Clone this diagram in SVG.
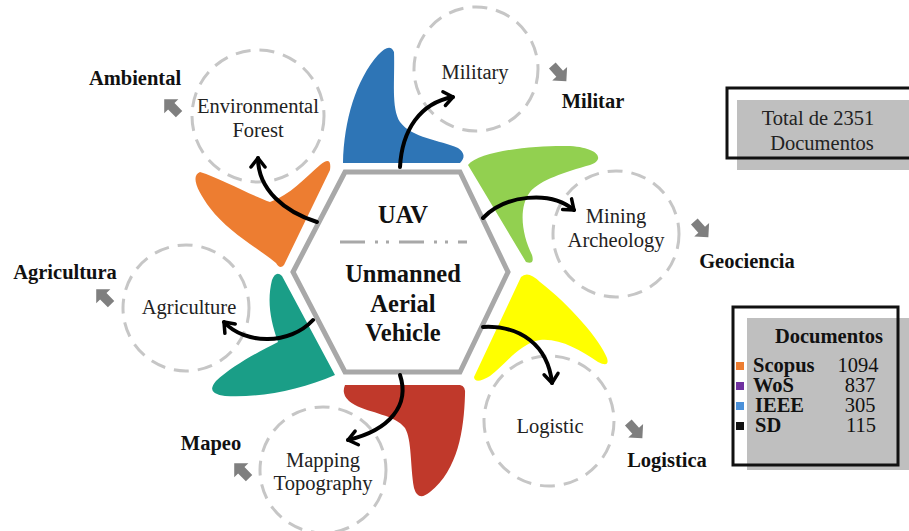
<svg xmlns="http://www.w3.org/2000/svg" width="909" height="531" viewBox="0 0 909 531">
<style>
.circ{fill:none;stroke:#c6c6c6;stroke-width:3;stroke-dasharray:15 9}
.lbl{font-family:"Liberation Serif",serif;font-size:20.5px;fill:#222;text-anchor:middle}
.bold{font-family:"Liberation Serif",serif;font-size:20.5px;font-weight:bold;fill:#111;text-anchor:middle}
.hex{font-family:"Liberation Serif",serif;font-size:24.5px;font-weight:bold;fill:#111;text-anchor:middle}
.garrow{fill:#7f7f7f}
.curve{fill:none;stroke:#000;stroke-width:4;stroke-linecap:round;marker-end:url(#head)}
.box{font-family:"Liberation Serif",serif;font-size:20.5px;fill:#222;text-anchor:middle}
.leg{font-family:"Liberation Serif",serif;font-size:20.5px;fill:#111}
</style>
<defs>
<marker id="head" viewBox="-12 -10 16 20" markerWidth="16" markerHeight="20" refX="0" refY="0" orient="auto" markerUnits="userSpaceOnUse">
<path d="M-9,-7 L0,0 L-9,7" fill="none" stroke="#000" stroke-width="3.5" stroke-linecap="round" stroke-linejoin="round"/>
</marker>
<polygon id="ga" points="-10,-4.5 1,-4.5 1,-10 11,0 1,10 1,4.5 -10,4.5"/>
</defs>
<rect width="909" height="531" fill="#fff"/>

<g id="nodes-circles">
<g id="military"><circle class="circ" cx="476" cy="69" r="62"/><text class="lbl" x="475" y="79">Military</text></g>
<g id="environmental"><circle class="circ" cx="258" cy="116" r="66"/><text class="lbl" x="258" y="113">Environmental</text><text class="lbl" x="258" y="137">Forest</text></g>
<g id="mining"><circle class="circ" cx="616" cy="234" r="63"/><text class="lbl" x="616" y="223">Mining</text><text class="lbl" x="616" y="247">Archeology</text></g>
<g id="agriculture"><circle class="circ" cx="186" cy="308" r="63"/><text class="lbl" x="189" y="314">Agriculture</text></g>
<g id="logistic"><circle class="circ" cx="549" cy="421" r="65"/><text class="lbl" x="550" y="433">Logistic</text></g>
<g id="mapping"><circle class="circ" cx="323" cy="470" r="63"/><text class="lbl" x="323" y="467">Mapping</text><text class="lbl" x="323" y="490">Topography</text></g>
</g>

<g id="shapes">
<path id="blue" fill="#2e75b6" d="M343,163 C344,120 356,80 378,55 Q390,42 394,52 C395,80 391,108 400,122 C412,138 440,140 458,148 Q468,155 460,163 Z"/>
<path id="green" fill="#92d050" d="M468,165 C480,150 540,145 570,146 C600,148 605,160 590,165 C565,172 540,180 530,192 C518,208 522,235 532,255 Q535,265 526,262 Z"/>
<path id="yellow" fill="#ffff00" d="M521,277 Q528,270 540,282 C570,305 600,340 607,358 Q610,368 598,362 C580,350 560,338 540,340 C520,343 505,365 490,376 Q475,385 474,377 Z"/>
<path id="red" fill="#c0392b" d="M345,385 L460,385 Q466,386 465,395 C464,430 458,470 430,492 Q418,502 414,488 C410,465 412,440 405,428 C395,415 370,413 355,405 Q340,397 345,385 Z"/>
<path id="teal" fill="#1a9e87" d="M272,280 Q276,270 282,276 L335,375 C300,390 260,398 225,396 Q205,394 216,381 C232,366 258,352 278,342 C270,320 267,300 272,280 Z"/>
<path id="orange" fill="#ed7d31" d="M200,172 C220,178 250,195 270,202 C290,195 305,178 320,165 Q332,155 330,170 L284,265 Q280,270 276,263 C258,248 228,232 210,208 C198,192 190,176 200,172 Z"/>
</g>

<g id="uav">
<polygon points="293,272 345,172 460,172 508,272 460,372 345,372" fill="#fff" stroke="#a8a8a8" stroke-width="5" stroke-linejoin="miter"/>
<text class="hex" x="403" y="223">UAV</text>
<path d="M340,242 L467,242" stroke="#a8a8a8" stroke-width="3" stroke-dasharray="25 10 3 8 3 10"/>
<text class="hex" x="403" y="282">Unmanned</text>
<text class="hex" x="403" y="312">Aerial</text>
<text class="hex" x="403" y="341">Vehicle</text>
</g>

<g id="connectors">
<path class="curve" d="M400,167 C402,130 420,103 453,97"/>
<path class="curve" d="M317,222 C285,212 258,190 258,158"/>
<path class="curve" d="M483,218 C505,195 550,190 574,210"/>
<path class="curve" d="M483,327 C520,325 548,345 552,383"/>
<path class="curve" d="M400,375 C410,405 390,430 348,440"/>
<path class="curve" d="M313,320 C290,345 245,345 224,322"/>
<use href="#ga" class="garrow" transform="translate(172,107) rotate(-135)"/>
<use href="#ga" class="garrow" transform="translate(559,73) rotate(48)"/>
<use href="#ga" class="garrow" transform="translate(701,229) rotate(48)"/>
<use href="#ga" class="garrow" transform="translate(104,297) rotate(-135)"/>
<use href="#ga" class="garrow" transform="translate(242,471) rotate(-135)"/>
<use href="#ga" class="garrow" transform="translate(635,430) rotate(48)"/>
</g>

<g id="categories">
<text class="bold" x="135" y="85">Ambiental</text>
<text class="bold" x="593" y="108">Militar</text>
<text class="bold" x="747" y="268">Geociencia</text>
<text class="bold" x="65" y="279">Agricultura</text>
<text class="bold" x="211" y="450">Mapeo</text>
<text class="bold" x="667" y="467">Logistica</text>
</g>

<g id="total">
<rect x="737" y="100" width="172" height="70" fill="#bfbfbf"/>
<rect x="727" y="88" width="185" height="70" fill="none" stroke="#111" stroke-width="3"/>
<text class="box" x="818" y="125">Total de 2351</text>
<text class="box" x="822" y="150">Documentos</text>
</g>

<g id="legend">
<rect x="747" y="318" width="162" height="152" fill="#bfbfbf"/>
<rect x="733" y="307" width="165" height="158" fill="none" stroke="#111" stroke-width="3"/>
<text class="leg" x="829" y="343" font-weight="bold" text-anchor="middle">Documentos</text>
<rect x="736" y="362" width="8" height="8" fill="#ed7d31"/>
<rect x="736" y="382" width="8" height="8" fill="#7030a0"/>
<rect x="736" y="402" width="8" height="8" fill="#4a90d9"/>
<rect x="736" y="422" width="8" height="8" fill="#111"/>
<text class="leg" x="753" y="372" font-weight="bold">Scopus</text>
<text class="leg" x="753" y="392" font-weight="bold">WoS</text>
<text class="leg" x="755" y="412" font-weight="bold">IEEE</text>
<text class="leg" x="755" y="432" font-weight="bold">SD</text>
<text class="leg" x="858" y="372" text-anchor="middle">1094</text>
<text class="leg" x="860" y="392" text-anchor="middle">837</text>
<text class="leg" x="860" y="412" text-anchor="middle">305</text>
<text class="leg" x="861" y="432" text-anchor="middle">115</text>
</g>
</svg>
